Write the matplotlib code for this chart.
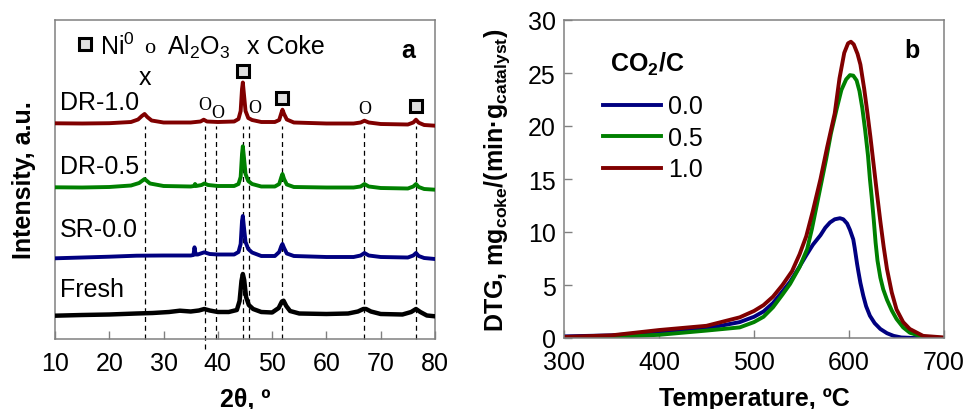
import matplotlib
matplotlib.use("Agg")
import matplotlib.pyplot as plt

plt.rcParams['font.family'] = ['Liberation Sans', 'DejaVu Sans']
plt.rcParams['mathtext.fontset'] = 'custom'
plt.rcParams['mathtext.rm'] = 'Liberation Sans'
plt.rcParams['mathtext.bf'] = 'Liberation Sans:bold'
plt.rcParams['mathtext.it'] = 'Liberation Sans:italic'

# ---------------- Panel a: XRD patterns (2theta, intensity a.u.) ----------------
dr10_x = [10, 15, 20, 24, 25.3, 26.0, 26.5, 27.0, 27.8, 30, 35, 36.8, 37.4, 38.0, 40, 43, 43.8, 44.2,
          44.45, 44.6, 44.8, 45.1, 45.6, 46.3, 48, 50.5, 51.3, 51.7, 51.9, 52.2, 52.7, 54, 60, 65,
          66.3, 67.0, 67.8, 70, 75, 76.0, 76.5, 77.0, 78, 80]
dr10_y = [215.7, 215.5, 215.8, 217, 219.5, 223, 225, 222, 218.5, 216.5, 216.5, 217.5, 219.3, 217.5,
          217, 217.5, 220, 228, 250, 256.5, 245, 228, 221, 219, 217, 217, 219, 226, 229.3, 225, 219.5,
          216.5, 215.5, 215.5, 216.5, 218.3, 216.5, 215, 214.5, 216.5, 219.3, 216.3, 214, 213.3]

dr05_x = [10, 15, 20, 24, 25.5, 26.5, 27.5, 30, 35, 35.6, 35.8, 36.0, 37, 37.5, 38.2, 40, 43, 43.8,
          44.2, 44.45, 44.6, 44.8, 45.1, 45.6, 46.3, 48, 50.5, 51.3, 51.7, 51.9, 52.2, 52.7, 54, 60,
          65, 66.3, 67.0, 67.8, 70, 75, 76.0, 76.5, 77.0, 78, 80]
dr05_y = [151.7, 151.5, 152, 153.5, 156, 160, 155.5, 153, 152.5, 153, 155, 153, 154, 155.5, 154, 153,
          153, 155, 162, 185, 192.7, 182, 165, 158, 155, 152.5, 152.5, 155, 162, 165, 160, 154.5, 152,
          151.5, 151.5, 152.5, 155, 152.5, 151, 150.5, 152.5, 155, 152, 150, 149.3]

sr00_x = [10, 15, 20, 25, 30, 35, 35.5, 35.7, 35.9, 36.3, 37.5, 38.5, 40, 43, 43.8, 44.2, 44.45,
          44.6, 44.8, 45.1, 45.6, 46.3, 48, 50.5, 51.3, 51.7, 51.9, 52.2, 52.7, 54, 60, 65, 66.3,
          67.0, 67.8, 70, 75, 76.0, 76.5, 77.0, 78, 80]
sr00_y = [80.7, 81.5, 82.3, 83.3, 83.5, 83.5, 84, 91.7, 84.5, 84.5, 86.7, 85, 84.5, 84.5, 87, 95,
          118, 123, 112, 97, 90, 86.5, 83, 83, 87, 93, 95, 91, 85.5, 83, 82, 82, 83.5, 86, 83.5, 82,
          81.5, 83.5, 86, 83, 81, 80]

fresh_x = [10, 15, 20, 25, 28, 31, 33, 35, 36.5, 37.5, 38.5, 40, 42, 43.5, 44.0, 44.35, 44.6, 44.85,
           45.2, 45.7, 46.5, 48, 50, 51.2, 51.8, 52.1, 52.6, 53.3, 55, 60, 64, 65.8, 66.8, 67.3,
           68.2, 70, 74, 75.6, 76.5, 77.3, 78.5, 80]
fresh_y = [23.3, 24, 24.5, 25.5, 26, 27, 28.3, 27.5, 28.5, 30, 28.5, 27, 27, 29, 38, 58, 65, 59, 42,
           34, 30, 27, 26.5, 31, 37.5, 38.3, 33, 28, 25.5, 25, 25.5, 27.5, 30, 30, 27.5, 25, 24.5, 27,
           30, 27, 23.5, 22.7]

xrd_names = ['DR-1.0', 'DR-0.5', 'SR-0.0', 'Fresh']
xrd_label_y = [237, 173, 110, 50]
ref_lines = [26.5, 37.6, 39.7, 44.7, 45.75, 51.9, 67.0, 76.5]
ni_peaks = [(44.6, 268), (51.9, 241), (76.5, 233)]
al_peaks = [(37.6, 234), (40.0, 226), (46.8, 231), (67.0, 230)]
coke_peaks = [(26.5, 262)]

# ---------------- Panel b: DTG curves ----------------
t_00 = [300, 350, 400, 450, 485, 500, 510, 520, 530, 538, 547, 555, 562, 570, 575, 580, 585, 590.5,
        594, 598, 601, 604.5, 606, 607.5, 608.5, 610, 612, 615, 618, 622, 627, 633, 640, 647, 655,
        668, 700]
dtg_00 = [0.15, 0.25, 0.5, 0.9, 1.5, 2.0, 2.5, 3.3, 4.4, 5.3, 6.6, 7.8, 8.8, 9.7, 10.4, 10.9, 11.2,
          11.3, 11.2, 10.8, 10.2, 9.3, 8.5, 7.6, 7.0, 6.2, 5.2, 4.0, 3.0, 2.1, 1.4, 0.85, 0.45, 0.2,
          0.05, 0.0, 0.0]
t_05 = [300, 350, 400, 450, 485, 500, 510, 520, 530, 538, 548, 556, 561, 566, 571, 576, 581, 587,
        592, 597, 601, 604.5, 608, 611, 614, 617, 620, 622, 624, 626, 628, 630, 633, 636, 640, 645,
        650, 657, 664, 678, 700]
dtg_05 = [0.0, 0.1, 0.3, 0.7, 1.0, 1.5, 2.0, 2.9, 4.1, 5.1, 6.7, 8.4, 10.3, 12.5, 14.7, 16.9, 19.3,
          21.6, 23.4, 24.4, 24.8, 24.75, 24.3, 23.3, 21.7, 19.6, 17.2, 15.0, 13.2, 11.2, 9.0, 7.3,
          5.7, 4.6, 3.6, 2.6, 1.8, 1.0, 0.5, 0.1, 0.0]
t_10 = [300, 350, 400, 450, 485, 500, 510, 520, 530, 540, 548, 555, 562, 570, 577, 585, 590, 595,
        599, 602, 605, 609, 612, 616, 619, 622.5, 626, 629.5, 633, 636.5, 640, 645, 650, 657, 664,
        678, 700]
dtg_10 = [0.1, 0.25, 0.75, 1.15, 1.95, 2.55, 3.1, 3.9, 5.0, 6.3, 7.9, 9.6, 12.0, 15.0, 18.0, 21.2,
          24.5, 26.9, 27.8, 27.95, 27.7, 26.8, 25.8, 23.5, 21.5, 19.0, 16.3, 13.6, 11.0, 8.6, 6.5,
          4.3, 2.7, 1.5, 0.85, 0.2, 0.05]
ratio_labels = ['0.0', '0.5', '1.0']

RED = '#800000'
GREEN = '#008000'
BLUE = '#000080'
GRAY = '#808080'

fig = plt.figure(figsize=(9.66, 4.10), dpi=100)
axa = fig.add_axes([55 / 966, 70 / 410, 380 / 966, 319 / 410])
axb = fig.add_axes([564 / 966, 71 / 410, 380 / 966, 318 / 410])

for ax in (axa, axb):
    for s in ax.spines.values():
        s.set_color(GRAY)
        s.set_linewidth(1.1)
    ax.tick_params(direction='in', color=GRAY, length=6, width=1, labelsize=18)

# ---- panel a
for i, xv in enumerate(ref_lines):
    lo = -10 if i == 1 else 0
    axa.plot([xv, xv], [lo, 213], color='black', lw=0.9, dashes=(4, 3), zorder=1, clip_on=False)

axa.plot(dr10_x, dr10_y, color=RED, lw=2.8, zorder=3)
axa.plot(dr05_x, dr05_y, color=GREEN, lw=2.8, zorder=3)
axa.plot(sr00_x, sr00_y, color=BLUE, lw=2.8, zorder=3)
axa.plot(fresh_x, fresh_y, color='black', lw=3.2, zorder=3)

for name, yv in zip(xrd_names, xrd_label_y):
    axa.text(10.9, yv, name, fontsize=18, va='center', ha='left')

for xv, yv in ni_peaks:
    axa.plot([xv], [yv], marker='s', ms=9, mfc='#e0e0e0', mec='black', mew=2.2, ls='none', zorder=4)
for xv, yv in al_peaks:
    axa.text(xv, yv, 'O', family='Liberation Serif', fontsize=13, ha='center', va='center')
for xv, yv in coke_peaks:
    axa.text(xv, yv, 'x', fontsize=18, ha='center', va='center')

# legend row of panel a
axa.plot([15.5], [295], marker='s', ms=9, mfc='#e0e0e0', mec='black', mew=2.2, ls='none',
         clip_on=False)
axa.text(18.2, 293, 'Ni$^0$', fontsize=18, va='center', ha='left')
axa.text(27.4, 291, 'o', family='Liberation Serif', fontsize=16, va='center', ha='center')
axa.text(30.6, 293, 'Al$_2$O$_3$', fontsize=18, va='center', ha='left')
axa.text(45.4, 293, 'x Coke', fontsize=18, va='center', ha='left')
axa.text(0.93, 0.905, 'a', transform=axa.transAxes, fontsize=18, fontweight='bold',
         ha='center', va='center')

axa.set_xlim(10, 80)
axa.set_ylim(0, 319)
axa.set_xticks(range(10, 81, 10))
axa.set_yticks([])
axa.tick_params(axis='x', pad=9)
axa.set_xlabel('2θ, º', fontsize=18, fontweight='bold', labelpad=8)
axa.set_ylabel('Intensity, a.u.', fontsize=18, fontweight='bold', labelpad=14)

# ---- panel b
lb0, = axb.plot(t_00, dtg_00, color=BLUE, lw=2.8)
lb1, = axb.plot(t_05, dtg_05, color=GREEN, lw=2.8)
lb2, = axb.plot(t_10, dtg_10, color=RED, lw=2.8)
axb.legend([lb0, lb1, lb2], ratio_labels, loc='upper left', bbox_to_anchor=(0.103, 0.766),
           frameon=False, fontsize=18, handlelength=2.3, handletextpad=0.3, labelspacing=0.3,
           borderpad=0, borderaxespad=0)
axb.text(0.218, 0.84, 'CO$_\\mathbf{2}$/C', transform=axb.transAxes, fontsize=18,
         fontweight='bold', ha='center', va='baseline')
axb.text(0.917, 0.905, 'b', transform=axb.transAxes, fontsize=18, fontweight='bold',
         ha='center', va='center')

axb.set_xlim(300, 700)
axb.set_ylim(0, 30)
axb.set_xticks(range(300, 701, 100))
axb.set_yticks(range(0, 31, 5))
axb.tick_params(axis='x', pad=9)
axb.tick_params(axis='y', pad=6)
axb.set_xlabel('Temperature, ºC', fontsize=18, fontweight='bold', labelpad=8)
axb.set_ylabel('DTG, mg$_\\mathbf{coke}$/(min·g$_\\mathbf{catalyst}$)', fontsize=18,
               fontweight='bold', labelpad=11)

fig.savefig('out.png', dpi=100)
